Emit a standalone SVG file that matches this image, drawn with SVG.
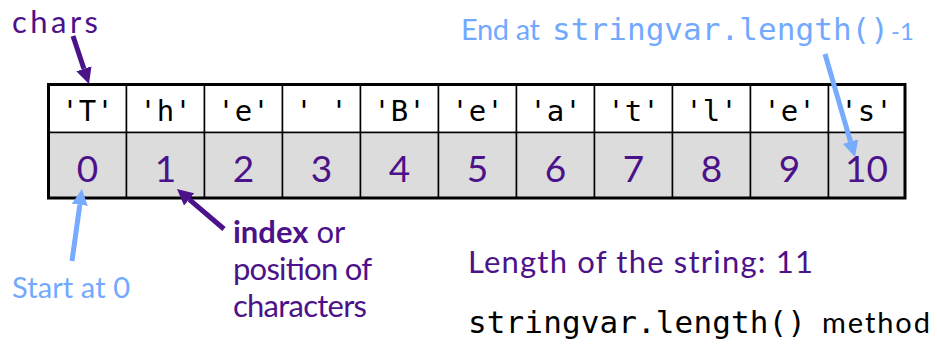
<svg xmlns="http://www.w3.org/2000/svg" width="937" height="348" viewBox="0 0 937 348">
  <style>
    .mono { font-family: "DejaVu Sans Mono", "Liberation Mono", monospace; }
    .sans { font-family: Lato, "Open Sans", "Liberation Sans", sans-serif; }
    .ch { font-size: 29px; fill: #000; text-anchor: middle; }
    .ix { font-size: 37px; fill: #4b1289; text-anchor: middle; }
    .top { fill: #ffffff; stroke: #000; stroke-width: 1.5; }
    .bot { fill: #dcdcdc; stroke: #000; stroke-width: 1.5; }
    .purple { fill: #4b1289; }
    .blue { fill: #72a9ff; }
    .conn { stroke-width: 5; fill: none; }
  </style>
  <defs>
    <marker id="headPurple" viewBox="0 0 16 16" refX="0" refY="8" markerWidth="16" markerHeight="16" markerUnits="userSpaceOnUse" orient="auto">
      <path d="M0,0 L16,8 L0,16 Z" fill="#4b1289"/>
    </marker>
    <marker id="headBlue" viewBox="0 0 16 16" refX="0" refY="8" markerWidth="16" markerHeight="16" markerUnits="userSpaceOnUse" orient="auto">
      <path d="M0,0 L16,8 L0,16 Z" fill="#76abff"/>
    </marker>
  </defs>

  <!-- string cells: character on top, index below -->
  <g id="cell-0"><rect class="top" x="48.5" y="84.5" width="78" height="48"/><rect class="bot" x="48.5" y="132.5" width="78" height="65.5"/><text class="mono ch" x="87.5" y="121">'T'</text><text class="sans ix" x="87.5" y="181.5">0</text></g>
  <g id="cell-1"><rect class="top" x="126.5" y="84.5" width="78" height="48"/><rect class="bot" x="126.5" y="132.5" width="78" height="65.5"/><text class="mono ch" x="165.5" y="121">'h'</text><text class="sans ix" x="165.5" y="181.5">1</text></g>
  <g id="cell-2"><rect class="top" x="204.5" y="84.5" width="78" height="48"/><rect class="bot" x="204.5" y="132.5" width="78" height="65.5"/><text class="mono ch" x="243.5" y="121">'e'</text><text class="sans ix" x="243.5" y="181.5">2</text></g>
  <g id="cell-3"><rect class="top" x="282.5" y="84.5" width="78" height="48"/><rect class="bot" x="282.5" y="132.5" width="78" height="65.5"/><text class="mono ch" x="321.5" y="121" xml:space="preserve">' '</text><text class="sans ix" x="321.5" y="181.5">3</text></g>
  <g id="cell-4"><rect class="top" x="360.5" y="84.5" width="78" height="48"/><rect class="bot" x="360.5" y="132.5" width="78" height="65.5"/><text class="mono ch" x="399.5" y="121">'B'</text><text class="sans ix" x="399.5" y="181.5">4</text></g>
  <g id="cell-5"><rect class="top" x="438.5" y="84.5" width="78" height="48"/><rect class="bot" x="438.5" y="132.5" width="78" height="65.5"/><text class="mono ch" x="477.5" y="121">'e'</text><text class="sans ix" x="477.5" y="181.5">5</text></g>
  <g id="cell-6"><rect class="top" x="516.5" y="84.5" width="78" height="48"/><rect class="bot" x="516.5" y="132.5" width="78" height="65.5"/><text class="mono ch" x="555.5" y="121">'a'</text><text class="sans ix" x="555.5" y="181.5">6</text></g>
  <g id="cell-7"><rect class="top" x="594.5" y="84.5" width="78" height="48"/><rect class="bot" x="594.5" y="132.5" width="78" height="65.5"/><text class="mono ch" x="633.5" y="121">'t'</text><text class="sans ix" x="633.5" y="181.5">7</text></g>
  <g id="cell-8"><rect class="top" x="672.5" y="84.5" width="78" height="48"/><rect class="bot" x="672.5" y="132.5" width="78" height="65.5"/><text class="mono ch" x="711.5" y="121">'l'</text><text class="sans ix" x="711.5" y="181.5">8</text></g>
  <g id="cell-9"><rect class="top" x="750.5" y="84.5" width="78" height="48"/><rect class="bot" x="750.5" y="132.5" width="78" height="65.5"/><text class="mono ch" x="789.5" y="121">'e'</text><text class="sans ix" x="789.5" y="181.5">9</text></g>
  <g id="cell-10"><rect class="top" x="828.5" y="84.5" width="76.5" height="48"/><rect class="bot" x="828.5" y="132.5" width="76.5" height="65.5"/><text class="mono ch" x="866.5" y="121">'s'</text><text class="sans ix" x="866.5" y="181.5">10</text></g>

  <!-- heavy outer frame of the array -->
  <rect id="frame" x="48.5" y="84.5" width="856.5" height="113.5" fill="none" stroke="#000" stroke-width="3"/>

  <!-- labels -->
  <g id="label-chars"><text class="sans purple" x="12" y="33" font-size="31" textLength="86">chars</text></g>
  <g id="label-end">
    <text class="sans blue" x="461" y="40" font-size="29" textLength="79">End at</text>
    <text class="mono blue" x="552" y="40" font-size="31" textLength="337">stringvar.length()</text>
    <text class="sans blue" x="891" y="40" font-size="24">-1</text>
  </g>
  <g id="label-start"><text class="sans blue" x="12" y="298" font-size="29" textLength="118">Start at 0</text></g>
  <g id="label-index">
    <text class="sans purple" x="233" y="243" font-size="31"><tspan font-weight="bold">index</tspan> or</text>
    <text class="sans purple" x="233" y="280" font-size="31" textLength="139">position of</text>
    <text class="sans purple" x="233" y="317" font-size="31" textLength="134">characters</text>
  </g>
  <g id="label-length"><text class="sans purple" x="468" y="273" font-size="31" textLength="345">Length of the string: 11</text></g>
  <g id="label-method">
    <text class="mono" x="468" y="333" font-size="31" fill="#000" textLength="338">stringvar.length()</text>
    <text class="sans" x="822" y="333" font-size="29" fill="#000" textLength="108">method</text>
  </g>

  <!-- connectors -->
  <g id="connectors">
    <line class="conn" x1="73" y1="36" x2="83.9" y2="68.8" stroke="#4b1289" marker-end="url(#headPurple)"/>
    <line class="conn" x1="825" y1="54" x2="850.5" y2="141.6" stroke="#76abff" marker-end="url(#headBlue)"/>
    <line class="conn" x1="72" y1="261" x2="79.8" y2="204.8" stroke="#76abff" marker-end="url(#headBlue)"/>
    <line class="conn" x1="224" y1="229" x2="189.2" y2="199.4" stroke="#4b1289" marker-end="url(#headPurple)"/>
  </g>
</svg>
